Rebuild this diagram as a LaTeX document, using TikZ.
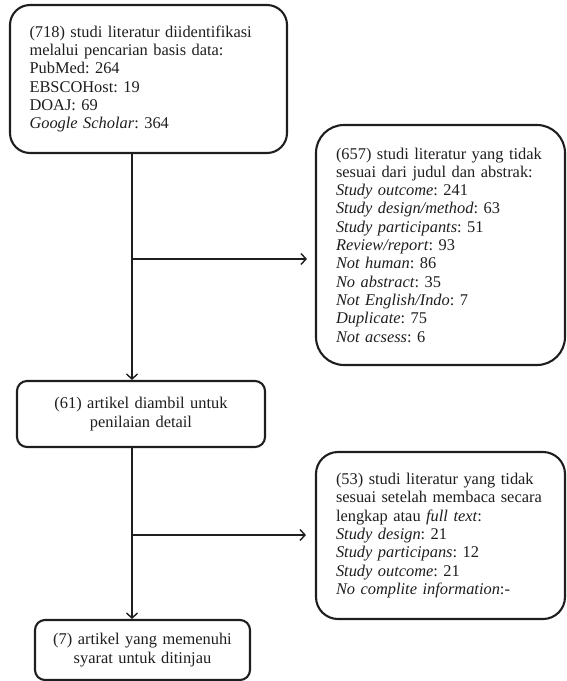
\documentclass[tikz,border=0pt]{standalone}
\usepackage{fontspec}
\setmainfont{Liberation Serif}
\usetikzlibrary{arrows.meta}
\definecolor{ink}{HTML}{1E1E1E}
\frenchspacing
\begin{document}
\begin{tikzpicture}[x=1pt,y=-1pt,
  box/.style={draw=ink, text=ink, line width=2.1pt, rounded corners=#1, inner sep=0pt,
    font=\fontsize{16.4}{18.3}\selectfont\frenchspacing},
  box/.default=10pt,
  conn/.style={draw=ink, line width=1.4pt, -{Straight Barb[length=5pt,width=11pt,line width=1.4pt]}}]
\useasboundingbox (0,0) rectangle (566,681);

\node[box=20pt, minimum width=277pt, minimum height=148pt, text width=238pt, align=left] (b1) at (148.5,79)
  {\makebox[238pt][s]{(718) studi literatur diidentifikasi}\\
   melalui pencarian basis data:\\
   PubMed: 264\\
   EBSCOHost: 19\\
   DOAJ: 69\\
   \textit{Google Scholar}: 364};

\node[box=28pt, minimum width=249pt, minimum height=240pt, text width=209pt, align=left] (b2) at (440.5,245)
  {(657) studi literatur yang tidak\\
   sesuai dari judul dan abstrak:\\
   \textit{Study outcome}: 241\\
   \textit{Study design/method}: 63\\
   \textit{Study participants}: 51\\
   \textit{Review/report}: 93\\
   \textit{Not human}: 86\\
   \textit{No abstract}: 35\\
   \textit{Not English/Indo}: 7\\
   \textit{Duplicate}: 75\\
   \textit{Not acsess}: 6};

\node[box=10pt, minimum width=248pt, minimum height=66pt, text width=240pt, align=center] (b3) at (141,414)
  {(61) artikel diambil untuk\\ penilaian detail};

\node[box=10pt, minimum width=215pt, minimum height=60pt, text width=205pt, align=center] (b4) at (142.5,650)
  {(7) artikel yang memenuhi\\ syarat untuk ditinjau};

\node[box=22pt, minimum width=249pt, minimum height=167pt, text width=209pt, align=left] (b5) at (440.5,535.5)
  {(53) studi literatur yang tidak\\
   sesuai setelah membaca secara\\
   lengkap atau \textit{full text}:\\
   \textit{Study design}: 21\\
   \textit{Study participans}: 12\\
   \textit{Study outcome}: 21\\
   \textit{No complite information}:-};

\coordinate (s1) at (132,259);
\coordinate (s2) at (132,535);

\draw[conn] (b1.south -| s1) -- (b3.north -| s1);
\draw[conn] (b3.south -| s1) -- (b4.north -| s1);
\draw[conn, shorten >=8pt] (s1) -- (s1 -| b2.west);
\draw[conn, shorten >=9pt] (s2) -- (s2 -| b5.west);
\end{tikzpicture}
\end{document}
